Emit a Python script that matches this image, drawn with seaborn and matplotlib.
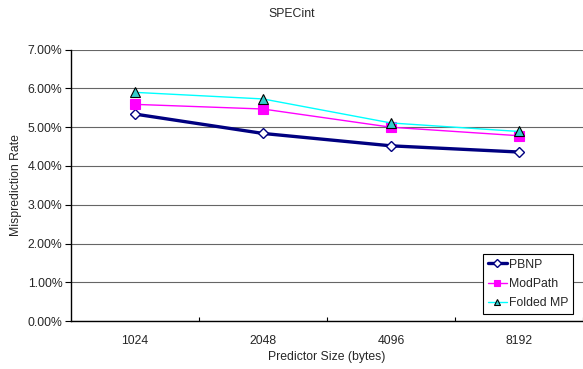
import matplotlib
matplotlib.use("Agg")
import matplotlib.pyplot as plt
import seaborn as sns
import pandas as pd
import numpy as np
from matplotlib.ticker import FuncFormatter, MultipleLocator

sizes = ["1024", "2048", "4096", "8192"]
pbnp = [5.34, 4.84, 4.52, 4.36]
modpath = [5.59, 5.47, 5.00, 4.78]
folded = [5.90, 5.73, 5.11, 4.89]
series_names = ["PBNP", "ModPath", "Folded MP"]

sns.set_theme(style="white")
plt.rcParams['font.family'] = ['Liberation Sans', 'DejaVu Sans']

rows = []
for name, vals in zip(series_names, [pbnp, modpath, folded]):
    for i, (s, v) in enumerate(zip(sizes, vals)):
        rows.append({"pos": i, "size": s, "rate": v, "series": name})
df = pd.DataFrame(rows)

FS = 8.8
fig = plt.figure(figsize=(5.83, 3.69), dpi=100)
ax = fig.add_axes([0.1213, 0.130, 0.879, 0.7353])

styles = {
    "PBNP": dict(color="#000080", lw=2.4, marker="D", ms=5, mfc="white", mec="#000080", mew=1.0),
    "ModPath": dict(color="#ff00ff", lw=1.0, marker="s", ms=6.5, mfc="#ff00ff", mec="#ff00ff", mew=0.8),
    "Folded MP": dict(color="#00ffff", lw=1.0, marker="^", ms=6.5, mfc="#33cccc", mec="black", mew=0.8),
}
for name in series_names:
    st = styles[name]
    sub = df[df.series == name]
    sns.lineplot(data=sub, x="pos", y="rate", ax=ax, color=st["color"], linewidth=st["lw"],
                 marker=st["marker"], markersize=st["ms"], markerfacecolor=st["mfc"],
                 markeredgecolor=st["mec"], markeredgewidth=st["mew"], label=name,
                 legend=False, zorder=3)

ax.set_xlim(-0.5, 3.5)
ax.set_ylim(0, 7)
ax.yaxis.set_major_locator(MultipleLocator(1))
ax.yaxis.set_major_formatter(FuncFormatter(lambda v, p: f"{v:.2f}%"))
ax.set_xticks(range(len(sizes)))
ax.set_xticklabels(sizes)
ax.set_xticks([0.5, 1.5, 2.5, 3.5], minor=True)
ax.grid(axis="y", color="#666666", linewidth=0.8)
ax.grid(axis="x", visible=False)
for sp in ["top", "right"]:
    ax.spines[sp].set_visible(False)
for sp in ["left", "bottom"]:
    ax.spines[sp].set_color("black")
    ax.spines[sp].set_linewidth(1.0)
ax.tick_params(axis="y", which="major", left=True, length=4, width=0.8, color="black",
               labelsize=FS, pad=2)
ax.tick_params(axis="x", which="major", bottom=False, labelsize=FS, pad=4)
ax.tick_params(axis="x", which="minor", bottom=True, direction="in", length=3, width=0.8, color="black")
ax.set_xlabel("Predictor Size (bytes)", fontsize=FS, labelpad=3)
ax.set_ylabel("Misprediction Rate", fontsize=FS, labelpad=4)
fig.text(0.4995, 0.963, "SPECint", ha="center", va="center", fontsize=FS)

handles, labels = ax.get_legend_handles_labels()
leg = fig.legend(handles, labels, loc="upper left", bbox_to_anchor=(0.828, 0.312),
                 fontsize=FS, frameon=True, fancybox=False, framealpha=1,
                 edgecolor="black", handlelength=1.6, handletextpad=0.15,
                 borderpad=0.4, labelspacing=0.6, borderaxespad=0, markerscale=0.75)
leg.get_frame().set_linewidth(0.8)

fig.savefig("out.png", dpi=100, facecolor="white")
